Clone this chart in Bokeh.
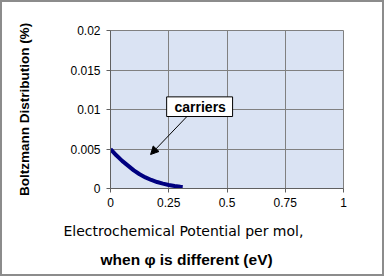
from bokeh.plotting import figure
from bokeh.models import Range1d, Label, Arrow, NormalHead, FixedTicker, BoxAnnotation, Title
from bokeh.embed import file_html
from bokeh.resources import INLINE

# data
x_vals = [0, 0.025, 0.05, 0.075, 0.1, 0.125, 0.15, 0.175, 0.2, 0.225, 0.25, 0.275, 0.3, 0.31]
y_vals = [0.0050, 0.0042, 0.0035, 0.0029, 0.0023, 0.0018, 0.0014, 0.00108, 0.00082, 0.00062, 0.00045, 0.00032, 0.00022, 0.00020]
x_ticks = [0, 0.25, 0.5, 0.75, 1]
x_tick_labels = ["0", "0.25", "0.5", "0.75", "1"]
y_ticks = [0, 0.005, 0.01, 0.015, 0.02]
y_tick_labels = ["0", "0.005", "0.01", "0.015", "0.02"]
annotation_text = "carriers"
y_label = "Boltzmann Distribution (%)"
x_label_1 = "Electrochemical Potential per mol,"
x_label_2 = "when φ is different (eV)"

FONT = "Liberation Sans"

p = figure(frame_width=233, frame_height=158, output_backend="svg", toolbar_location=None,
           x_range=Range1d(0, 1), y_range=Range1d(0, 0.02),
           min_border_left=108, min_border_right=39, min_border_top=28, min_border_bottom=86)
p.styles = {"border": "2px solid #8c8c8c", "box-sizing": "border-box"}

p.border_fill_color = "white"
p.background_fill_color = "#dae3f3"
p.outline_line_color = "#808080"
p.outline_line_width = 1

p.xaxis.ticker = FixedTicker(ticks=x_ticks)
p.yaxis.ticker = FixedTicker(ticks=y_ticks)
p.xaxis.major_label_overrides = dict(zip(x_ticks, x_tick_labels))
p.yaxis.major_label_overrides = dict(zip(y_ticks, y_tick_labels))
for ax in (p.xaxis, p.yaxis):
    ax.major_label_text_font = FONT
    ax.major_label_text_font_size = "12px"
    ax.major_label_text_color = "black"
    ax.axis_line_color = "#606060"
    ax.major_tick_line_color = "#606060"
    ax.major_tick_in = 0
    ax.major_tick_out = 4
    ax.minor_tick_line_color = None
p.xaxis.major_label_standoff = 5
p.yaxis.major_label_standoff = 6

p.yaxis.axis_label = y_label
p.yaxis.axis_label_text_font = FONT
p.yaxis.axis_label_text_font_size = "13.5px"
p.yaxis.axis_label_text_font_style = "bold"
p.yaxis.axis_label_text_color = "black"
p.yaxis.axis_label_standoff = 35

p.add_layout(Title(text=x_label_1, align="left", offset=-47, text_font="DejaVu Sans",
                   text_font_size="14px", text_font_style="normal", text_color="black",
                   standoff=23), "below")
p.add_layout(Title(text=x_label_2, align="left", offset=-10, text_font=FONT,
                   text_font_size="15.5px", text_font_style="bold", text_color="black",
                   standoff=0, vertical_align="top"), "below")

p.xgrid.grid_line_color = "#808080"
p.ygrid.grid_line_color = "#808080"

p.line(x_vals, y_vals, line_color="#000080", line_width=4)

# annotation
p.add_layout(Arrow(end=NormalHead(size=8, fill_color="black", line_color="black"),
                   x_start=0.328, y_start=0.00911, x_end=0.172, y_end=0.0043,
                   line_color="black", line_width=1))
p.add_layout(BoxAnnotation(left=0.241, right=0.524, bottom=0.00911, top=0.0116,
                           fill_color="white", fill_alpha=1, line_color="black",
                           line_width=1, line_alpha=1))
p.add_layout(Label(x=0.385, y=0.01035, text=annotation_text, text_font=FONT,
                   text_font_size="14px", text_font_style="bold", text_align="center",
                   text_baseline="middle", text_color="black"))

open("out.html", "w").write(file_html(p, INLINE))
